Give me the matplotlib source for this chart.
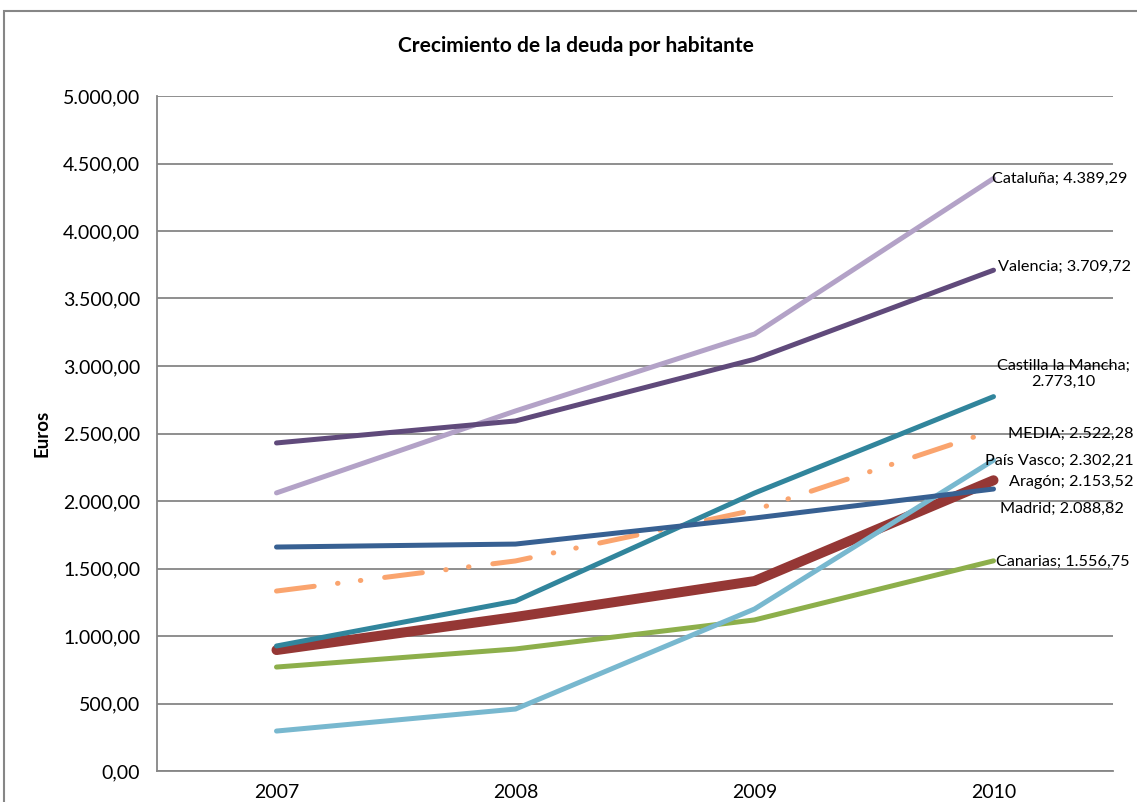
import matplotlib.pyplot as plt
from matplotlib.patches import Rectangle
from matplotlib.ticker import FuncFormatter

plt.rcParams['font.family'] = ['Lato', 'DejaVu Sans']

years = ['2007', '2008', '2009', '2010']

cataluna = [2060, 2667, 3237, 4389.29]
valencia = [2430, 2593, 3050, 3709.72]
castilla = [926, 1259, 2059, 2773.10]
media = [1333, 1556, 1933, 2522.28]
pais_vasco = [296, 459, 1200, 2302.21]
aragon = [896, 1141, 1407, 2153.52]
madrid = [1659, 1681, 1874, 2088.82]
canarias = [770, 904, 1119, 1556.75]


def es_num(v, pos=None):
    s = f"{v:,.2f}"
    return s.replace(',', 'X').replace('.', ',').replace('X', '.')


fig = plt.figure(figsize=(11.37, 8.02), dpi=100)
ax = fig.add_axes([157 / 1137, 1 - 771 / 802, (1113 - 157) / 1137, (771 - 96) / 802])

x = list(range(len(years)))
lw = 3.6
series = [
    ('Cataluña', cataluna, '#B3A2C7', lw, 1),
    ('MEDIA', media, '#FAA46E', lw, 2),
    ('Aragón', aragon, '#953735', 7.2, 3),
    ('Canarias', canarias, '#8DAF4B', lw, 4),
    ('País Vasco', pais_vasco, '#78B8CF', lw, 5),
    ('Castilla la Mancha', castilla, '#31859C', lw, 6),
    ('Madrid', madrid, '#376092', lw, 7),
    ('Valencia', valencia, '#604A7B', lw, 8),
]
for name, vals, color, w, z in series:
    line, = ax.plot(x, vals, color=color, lw=w, zorder=z,
                    solid_capstyle='round', solid_joinstyle='miter')
    if name == 'MEDIA':
        line.set_dashes([7.6, 4.7, 0.1, 4.5, 0.1, 4.8])
        line.set_dash_capstyle('round')

# data labels at the last point (offsets in pixels)
labels = [
    ('Cataluña; 4.389,29', cataluna[-1], -1, 0, 'left'),
    ('Valencia; 3.709,72', valencia[-1], 4, 3, 'left'),
    ('Castilla la Mancha;\n2.773,10', castilla[-1], 70, 23, 'center'),
    ('MEDIA; 2.522,28', media[-1], 140, -3, 'right'),
    ('País Vasco; 2.302,21', pais_vasco[-1], 140, -1, 'right'),
    ('Aragón; 2.153,52', aragon[-1], 140, -2, 'right'),
    ('Madrid; 2.088,82', madrid[-1], 68, -20, 'center'),
    ('Canarias; 1.556,75', canarias[-1], 3, -1, 'left'),
]
for txt, yv, dx, dy, ha in labels:
    ax.annotate(txt, xy=(3, yv), xytext=(dx, dy), textcoords='offset pixels',
                ha=ha, va='center', fontsize=11.7, color='black', zorder=10,
                multialignment='center', annotation_clip=False)

ax.set_xlim(-0.5, 3.5)
ax.set_ylim(0, 5000)
ax.set_yticks(range(0, 5001, 500))
ax.yaxis.set_major_formatter(FuncFormatter(es_num))
ax.set_xticks(x)
ax.set_xticklabels(years)
ax.tick_params(axis='both', length=0, labelsize=14)
ax.tick_params(axis='y', pad=12)
ax.tick_params(axis='x', pad=9)
ax.grid(axis='y', color='#868686', lw=1.3, zorder=0)
ax.set_axisbelow(True)
for s in ['top', 'right']:
    ax.spines[s].set_visible(False)
for s in ['left', 'bottom']:
    ax.spines[s].set_color('#868686')
    ax.spines[s].set_linewidth(1.3)

fig.text(42 / 1137, 1 - 433 / 802, 'Euros', rotation=90, ha='center', va='center',
         fontsize=13.5, fontweight='bold')
fig.text(576 / 1137, 1 - 46 / 802, 'Crecimiento de la deuda por habitante',
         ha='center', va='center', fontsize=15, fontweight='bold')

fig.patches.append(Rectangle((4 / 1137, -0.1), 1.2, 1 - 11 / 802 + 0.1,
                             transform=fig.transFigure, fill=False,
                             edgecolor='#868686', lw=1.5))

fig.savefig('out.png', dpi=100)
